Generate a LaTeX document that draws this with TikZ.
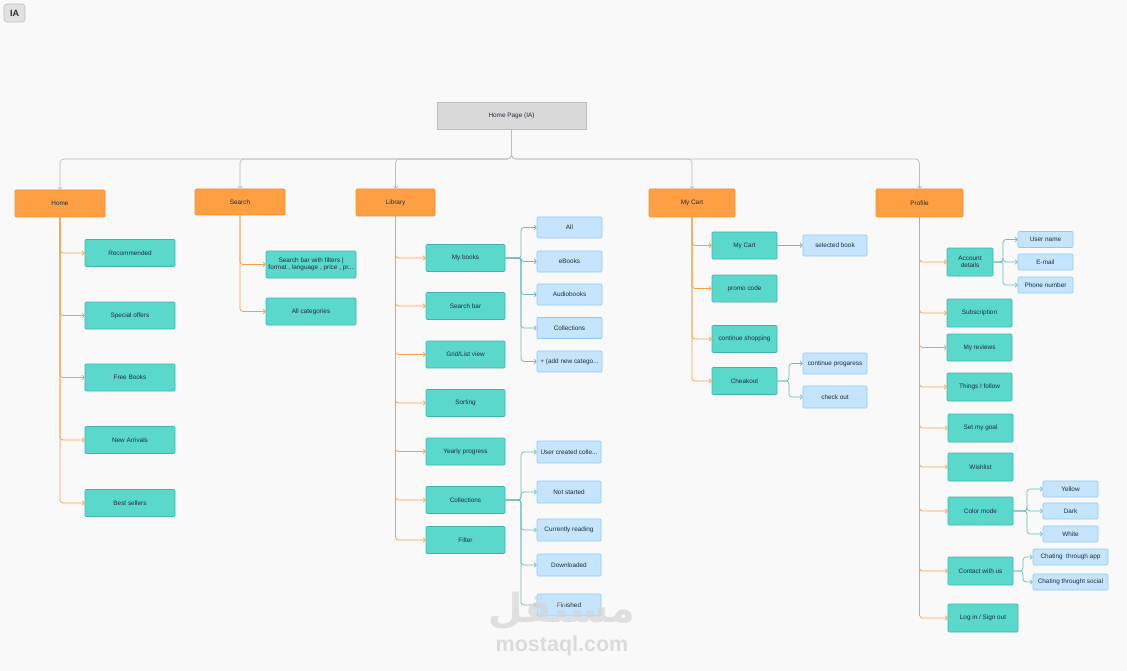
\documentclass[tikz,border=0pt]{standalone}
\usepackage{fontspec}
\setmainfont{Liberation Sans}
\newfontfamily\arabicfont[Script=Arabic]{DejaVu Sans}
\TeXXeTstate=1
\usetikzlibrary{arrows.meta}
\definecolor{bgc}{HTML}{F9F9F9}
\definecolor{txt}{HTML}{1F2D3A}
\definecolor{orf}{HTML}{FF9F43}
\definecolor{ord}{HTML}{F2912F}
\definecolor{tlf}{HTML}{5AD8CC}
\definecolor{tld}{HTML}{41B5AA}
\definecolor{blf}{HTML}{C4E5FD}
\definecolor{bld}{HTML}{8CCBF7}
\definecolor{orl}{HTML}{F7A04C}
\definecolor{tll}{HTML}{6DBDB6}
\definecolor{gyl}{HTML}{BDBDBD}
\definecolor{hpf}{HTML}{D9D9D9}
\definecolor{wmk}{HTML}{D4D4D4}
\newcommand{\fs}{\fontsize{6.4}{7.6}\selectfont}
\tikzset{
  sz/.style 2 args={minimum width=#1pt, minimum height=#2pt},
  base/.style={rectangle, font=\fs, text=txt, align=center, inner sep=1pt, line width=0.6pt},
  hdr/.style={base, fill=orf, draw=ord, rounded corners=1pt},
  leaf/.style={base, fill=tlf, draw=tld, rounded corners=1pt},
  subb/.style={base, fill=blf, draw=bld, rounded corners=1pt},
  ocon/.style={draw=orl, line width=0.7pt, rounded corners=3pt, -{Straight Barb[length=2pt,width=4.5pt]}},
  tcon/.style={draw=tll, line width=0.7pt, rounded corners=3pt, -{Straight Barb[length=2pt,width=4.5pt]}},
  gcon/.style={draw=gyl, line width=0.7pt, rounded corners=4pt, -{Straight Barb[length=2pt,width=4.5pt]}}
}
\begin{document}
\begin{tikzpicture}[x=1pt,y=-1pt]
\useasboundingbox (0,0) rectangle (1127,671);
\fill[bgc] (0,0) rectangle (1127,671);

% IA tag
\node[rectangle, rounded corners=3pt, fill=hpf!80!white, draw=gyl, line width=0.6pt, sz={21}{18}, inner sep=0pt, text=txt, font=\bfseries\fontsize{9}{10}\selectfont] (ia) at (14.5,13) {IA};

% root
\node[base, fill=hpf, draw=gyl, sz={149}{27}] (hp) at (511.5,115.5) {Home Page (IA)};
\coordinate (bus) at (0,159);

% headers
\node[hdr, sz={90}{27}] (home) at (60,203.5) {Home};
\node[hdr, sz={90}{26}] (search) at (240,202) {Search};
\node[hdr, sz={79}{27}] (lib) at (395.5,202.5) {Library};
\node[hdr, sz={86}{28}] (cart) at (692,203) {My Cart};
\node[hdr, sz={87}{28}] (prof) at (919.5,203) {Profile};

\foreach \t in {home,search,lib,cart,prof}
  \draw[gcon] (hp.south) -- (hp.south |- bus) -| (\t.north);

% Home leaves
\node[leaf, sz={90}{27}] (h1) at (130,253) {Recommended};
\node[leaf, sz={90}{27}] (h2) at (130,315.5) {Special offers};
\node[leaf, sz={90}{27}] (h3) at (130,377.5) {Free Books};
\node[leaf, sz={90}{27}] (h4) at (130,440) {New Arrivals};
\node[leaf, sz={90}{27}] (h5) at (130,503) {Best sellers};
\foreach \t in {h1,h2,h3,h4,h5} \draw[ocon] (home.south) |- (\t.west);

% Search leaves
\node[leaf, sz={90}{27}] (s1) at (311,264.5) {Search bar with filters |\\format , language , price , pr...};
\node[leaf, sz={90}{27}] (s2) at (311,311.5) {All categories};
\foreach \t in {s1,s2} \draw[ocon] (search.south) |- (\t.west);

% Library leaves
\node[leaf, sz={79}{27}] (l1) at (465.5,258) {My books};
\node[leaf, sz={79}{27}] (l2) at (465.5,306) {Search bar};
\node[leaf, sz={79}{27}] (l3) at (465.5,354.5) {Grid/List view};
\node[leaf, sz={79}{27}] (l4) at (465.5,403) {Sorting};
\node[leaf, sz={79}{27}] (l5) at (465.5,451.5) {Yearly progress};
\node[leaf, sz={79}{27}] (l6) at (465.5,500) {Collections};
\node[leaf, sz={79}{27}] (l7) at (465.5,540) {Filter};
\foreach \t in {l1,l2,l3,l4,l5,l6,l7} \draw[ocon] (lib.south) |- (\t.west);

% My books subs
\coordinate (b1) at (521,0);
\node[subb, sz={65}{21}] (m1) at (569.5,227.5) {All};
\node[subb, sz={65}{21}] (m2) at (569.5,261.5) {eBooks};
\node[subb, sz={65}{21}] (m3) at (569.5,294.5) {Audiobooks};
\node[subb, sz={65}{21}] (m4) at (569.5,328) {Collections};
\node[subb, sz={65}{21}] (m5) at (569.5,361.5) {+ (add new catego...};
\foreach \t in {m1,m2,m3,m4,m5} \draw[tcon] (l1.east) -- (l1.east -| b1) |- (\t.west);

% Collections subs
\node[subb, sz={64}{22}] (c1) at (569,452) {User created colle...};
\node[subb, sz={64}{22}] (c2) at (569,492) {Not started};
\node[subb, sz={64}{22}] (c3) at (569,530) {Currently reading};
\node[subb, sz={64}{22}] (c4) at (569,565) {Downloaded};
\node[subb, sz={64}{22}] (c5) at (569,605) {Finished};
\foreach \t in {c1,c2,c3,c4,c5} \draw[tcon] (l6.east) -- (l6.east -| b1) |- (\t.west);

% Cart leaves
\node[leaf, sz={65}{27}] (k1) at (744.5,245.5) {My Cart};
\node[leaf, sz={65}{27}] (k2) at (744.5,288.5) {promo code};
\node[leaf, sz={65}{27}] (k3) at (744.5,339) {continue shopping};
\node[leaf, sz={65}{27}] (k4) at (744.5,381) {Cheakout};
\foreach \t in {k1,k2,k3,k4} \draw[ocon] (cart.south) |- (\t.west);
\node[subb, sz={64}{21}] (sb) at (835,245.5) {selected book};
\draw[tcon] (k1.east) -- (sb.west);
\coordinate (b2) at (789,0);
\node[subb, sz={64}{21}] (cp) at (835,363.5) {continue progaress};
\node[subb, sz={64}{22}] (co) at (835,397) {check out};
\foreach \t in {cp,co} \draw[tcon] (k4.east) -- (k4.east -| b2) |- (\t.west);

% Profile leaves
\node[leaf, sz={46}{28}] (p1) at (970,262) {Account\\details};
\node[leaf, sz={65}{28}] (p2) at (979.5,313) {Subscription};
\node[leaf, sz={65}{27}] (p3) at (979.5,347.5) {My reviews};
\node[leaf, sz={65}{28}] (p4) at (979.5,387) {Things I follow};
\node[leaf, sz={65}{28}] (p5) at (980.5,428) {Set my goal};
\node[leaf, sz={65}{28}] (p6) at (980.5,467) {Wishlist};
\node[leaf, sz={65}{28}] (p7) at (980.5,511) {Color mode};
\node[leaf, sz={65}{28}] (p8) at (980.5,571) {Contact with us};
\node[leaf, sz={70}{28}] (p9) at (983,618) {Log in / Sign out};
\foreach \t in {p1,p2,p3,p4,p5,p6,p7,p8,p9} \draw[ocon] (prof.south) |- (\t.west);

\coordinate (b3) at (1003,0);
\node[subb, sz={55}{16}] (a1) at (1045.5,239.5) {User name};
\node[subb, sz={55}{16}] (a2) at (1045.5,262) {E-mail};
\node[subb, sz={55}{16}] (a3) at (1045.5,285) {Phone number};
\foreach \t in {a1,a2,a3} \draw[tcon] (p1.east) -- (p1.east -| b3) |- (\t.west);

\coordinate (b4) at (1027,0);
\node[subb, sz={55}{16}] (y1) at (1070.5,489) {Yellow};
\node[subb, sz={55}{16}] (y2) at (1070.5,511) {Dark};
\node[subb, sz={55}{16}] (y3) at (1070.5,534) {White};
\foreach \t in {y1,y2,y3} \draw[tcon] (p7.east) -- (p7.east -| b4) |- (\t.west);

\coordinate (b5) at (1023,0);
\node[subb, sz={75}{16}] (w1) at (1070.5,557) {Chating\ \ through app};
\node[subb, sz={75}{16}] (w2) at (1070.5,582) {Chating throught social};
\foreach \t in {w1,w2} \draw[tcon] (p8.east) -- (p8.east -| b5) |- (\t.west);

% watermark
\node[text=wmk, opacity=0.7, font=\arabicfont\bfseries\fontsize{40}{40}\selectfont, inner sep=0pt] (wm1) at (562,611) {\beginR مستقل\endR};
\node[text=wmk, opacity=0.8, font=\bfseries\fontsize{21.5}{21.5}\selectfont, inner sep=0pt] (wm2) at (562,646) {mostaql.com};
\end{tikzpicture}
\end{document}
